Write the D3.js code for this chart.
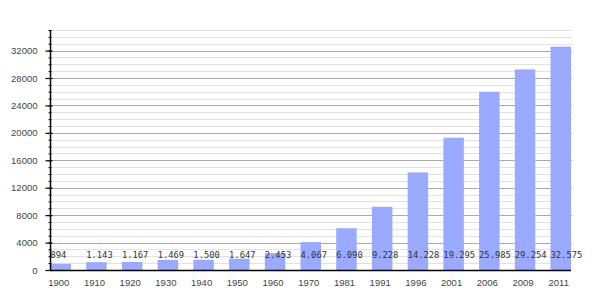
<!DOCTYPE html>
<html>
<head>
<meta charset="utf-8">
<script src="https://cdn.jsdelivr.net/npm/d3@7"></script>
<style>
  body { margin: 0; background: #fff; }
  svg { display: block; }
</style>
</head>
<body>
<svg id="chart" width="600" height="300"></svg>
<script>
const years = ['1900', '1910', '1920', '1930', '1940', '1950', '1960', '1970', '1981', '1991', '1996', '2001', '2006', '2009', '2011'];
const population = [894, 1143, 1167, 1469, 1500, 1647, 2453, 4067, 6090, 9228, 14228, 19295, 25985, 29254, 32575];
const valueLabels = ['894', '1.143', '1.167', '1.469', '1.500', '1.647', '2.453', '4.067', '6.090', '9.228', '14.228', '19.295', '25.985', '29.254', '32.575'];
const majorTicks = [0, 4000, 8000, 12000, 16000, 20000, 24000, 28000, 32000];
const minorTicks = d3.range(1000, 35001, 1000);

const svg = d3.select('#chart');
const plotLeft = 50, plotRight = 571, plotTop = 30, plotBottom = 270;

const x = d3.scaleBand().domain(years).range([plotLeft + 0.5, plotRight]).paddingInner(0.426).paddingOuter(0).align(0);
const y = d3.scaleLinear().domain([0, 35000]).range([plotBottom, plotTop]);

// grid lines
svg.append('g')
  .selectAll('line')
  .data(minorTicks.filter(d => d % 4000 !== 0))
  .join('line')
  .attr('x1', plotLeft).attr('x2', plotRight + 1)
  .attr('y1', d => Math.round(y(d)) + 0.5).attr('y2', d => Math.round(y(d)) + 0.5)
  .attr('stroke', '#e2e2e2');

svg.append('g')
  .selectAll('line')
  .data(majorTicks.filter(d => d > 0))
  .join('line')
  .attr('x1', plotLeft).attr('x2', plotRight + 1)
  .attr('y1', d => Math.round(y(d)) + 0.5).attr('y2', d => Math.round(y(d)) + 0.5)
  .attr('stroke', '#aaa');

// bars
svg.append('g')
  .selectAll('rect')
  .data(population)
  .join('rect')
  .attr('x', (d, i) => x(years[i]))
  .attr('y', d => y(d))
  .attr('width', x.bandwidth())
  .attr('height', d => plotBottom - y(d))
  .attr('fill', '#99aaff');

// value labels
svg.append('g')
  .selectAll('text')
  .data(valueLabels)
  .join('text')
  .attr('x', (d, i) => x(years[i]))
  .attr('y', 258)
  .style('font-family', 'DejaVu Sans Mono')
  .style('font-size', '8.8px')
  .style('fill', '#333')
  .text(d => d);

// y axis
const yMinor = svg.append('g')
  .attr('transform', `translate(${plotLeft + 0.5},0)`)
  .call(d3.axisLeft(y).tickValues(minorTicks).tickSize(3).tickFormat(''));
yMinor.select('.domain').remove();
yMinor.selectAll('line').attr('x2', -2).attr('x1', 1);

const yAxis = svg.append('g')
  .attr('transform', `translate(${plotLeft + 0.5},0)`)
  .call(d3.axisLeft(y).tickValues(majorTicks).tickFormat(d3.format('d')).tickSize(5).tickSizeOuter(0).tickPadding(8));
yAxis.select('.domain').attr('d', `M0,${plotTop}V${plotBottom}`).attr('stroke', '#000').attr('stroke-width', 1.5);
yAxis.selectAll('.tick line').attr('x1', 2).attr('stroke-width', 1.2);
yAxis.selectAll('text')
  .style('font-family', 'Liberation Sans, Arial, sans-serif')
  .style('font-size', '9.5px')
  .style('fill', '#444');

// x axis
const xAxis = svg.append('g')
  .attr('transform', `translate(0,${plotBottom + 0.5})`)
  .call(d3.axisBottom(x).tickSize(0).tickPadding(9));
xAxis.select('.domain').attr('d', `M${plotLeft},0H${plotRight}`).attr('stroke', '#000').attr('stroke-width', 1.5);
xAxis.selectAll('.tick').attr('transform', d => `translate(${x(d) + x.bandwidth() / 2 - 2},0)`);
xAxis.selectAll('text')
  .style('font-family', 'Liberation Sans, Arial, sans-serif')
  .style('font-size', '9.5px')
  .style('fill', '#444');
</script>
</body>
</html>
